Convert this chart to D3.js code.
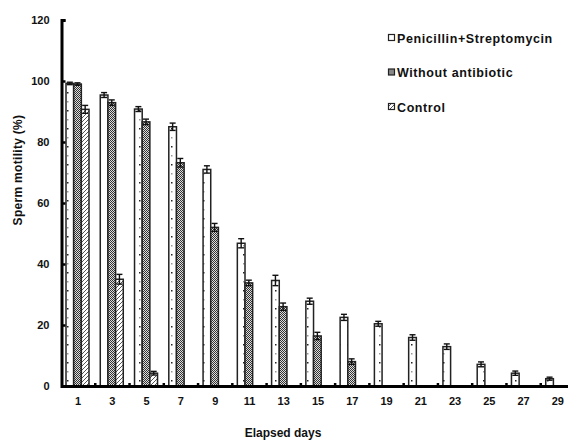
<!DOCTYPE html>
<html lang="en">
<head>
    <meta charset="UTF-8">
    <title>Sperm motility</title>
    <script src="https://d3js.org/d3.v7.min.js"></script>
    <style>
        body { margin: 0; background: #fff; }
        text { font-family: "Liberation Sans", Arial, sans-serif; font-weight: bold; fill: #111; }
        .axis path, .axis line { stroke: #000; }
        .bar { stroke: #222; stroke-width: 1.5; }
        .err { stroke: #111; stroke-width: 1.4; fill: none; }
    </style>
</head>
<body>
    <div id="chart"></div>
    <script type="text/javascript">
        // data
        const days = ["1", "3", "5", "7", "9", "11", "13", "15", "17", "19", "21", "23", "25", "27", "29"];
        const seriesNames = ["Penicillin+Streptomycin", "Without antibiotic", "Control"];
        const penStrep = [99.2, 95.4, 90.8, 85, 71, 46.8, 34.6, 27.8, 22.5, 20.4, 15.9, 12.9, 7.1, 4.2, 2.4];
        const penStrepErr = [0.4, 0.8, 0.8, 1.2, 1.2, 1.5, 1.7, 1.0, 1.0, 0.8, 0.9, 0.9, 0.8, 0.7, 0.5];
        const noAntibiotic = [99, 92.9, 86.6, 73.2, 52, 33.8, 26, 16.4, 8, null, null, null, null, null, null];
        const noAntibioticErr = [0.4, 0.9, 0.9, 1.4, 1.3, 0.9, 1.2, 1.2, 0.9, null, null, null, null, null, null];
        const control = [90.7, 35, 4.2, null, null, null, null, null, null, null, null, null, null, null, null];
        const controlErr = [1.3, 1.6, 0.6, null, null, null, null, null, null, null, null, null, null, null, null];
        const yTicks = [0, 20, 40, 60, 80, 100, 120];

        const width = 568, height = 440;
        const svg = d3.select("#chart").append("svg")
            .attr("width", width)
            .attr("height", height);

        // fill patterns
        const defs = svg.append("defs");
        const dots = defs.append("pattern").attr("id", "pDots")
            .attr("patternUnits", "userSpaceOnUse").attr("width", 8).attr("height", 18);
        dots.append("rect").attr("width", 8).attr("height", 18).attr("fill", "#fff");
        dots.append("rect").attr("x", 3).attr("y", 2).attr("width", 1.5).attr("height", 1.5).attr("fill", "#222");
        dots.append("rect").attr("x", 3).attr("y", 11).attr("width", 1.5).attr("height", 1.5).attr("fill", "#999");

        const mesh = defs.append("pattern").attr("id", "pMesh")
            .attr("patternUnits", "userSpaceOnUse").attr("width", 2).attr("height", 2);
        mesh.append("rect").attr("width", 2).attr("height", 2).attr("fill", "#ddd");
        mesh.append("rect").attr("width", 1).attr("height", 1).attr("fill", "#333");
        mesh.append("rect").attr("x", 1).attr("y", 1).attr("width", 1).attr("height", 1).attr("fill", "#333");

        const hatch = defs.append("pattern").attr("id", "pHatch")
            .attr("patternUnits", "userSpaceOnUse").attr("width", 4).attr("height", 4);
        hatch.append("rect").attr("width", 4).attr("height", 4).attr("fill", "#fff");
        hatch.append("path").attr("d", "M-1,1 l2,-2 M0,4 l4,-4 M3,5 l2,-2")
            .attr("stroke", "#555").attr("stroke-width", 1);

        const fills = ["url(#pDots)", "url(#pMesh)", "url(#pHatch)"];
        const values = [penStrep, noAntibiotic, control];
        const errs = [penStrepErr, noAntibioticErr, controlErr];

        const x0 = d3.scaleBand().domain(days).range([61, 575]).padding(0);
        const x1 = d3.scaleBand().domain(d3.range(3)).range([5, 28]);
        const y = d3.scaleLinear().domain([0, 120]).range([386, 20]);

        // bars
        const rows = [];
        values.forEach((vals, s) => {
            vals.forEach((v, i) => {
                if (v != null) rows.push({ day: days[i], s: s, v: v, e: errs[s][i] });
            });
        });

        svg.append("g").selectAll("rect")
            .data(rows)
            .enter().append("rect")
            .attr("class", "bar")
            .attr("x", d => x0(d.day) + x1(d.s))
            .attr("y", d => y(d.v))
            .attr("width", x1.bandwidth())
            .attr("height", d => y(0) - y(d.v))
            .attr("fill", d => fills[d.s]);

        // error bars
        const eg = svg.append("g").selectAll("g")
            .data(rows)
            .enter().append("g")
            .attr("transform", d => "translate(" + (x0(d.day) + x1(d.s) + x1.bandwidth() / 2) + ",0)");
        eg.append("line").attr("class", "err")
            .attr("x1", 0).attr("x2", 0)
            .attr("y1", d => y(d.v - d.e)).attr("y2", d => y(d.v + d.e));
        eg.append("line").attr("class", "err")
            .attr("x1", -3).attr("x2", 3)
            .attr("y1", d => y(d.v + d.e)).attr("y2", d => y(d.v + d.e));
        eg.append("line").attr("class", "err")
            .attr("x1", -3).attr("x2", 3)
            .attr("y1", d => y(d.v - d.e)).attr("y2", d => y(d.v - d.e));

        // y axis
        const yAxis = svg.append("g").attr("class", "axis")
            .attr("transform", "translate(61.5,0)")
            .call(d3.axisLeft(y).tickValues(yTicks).tickSize(-4).tickPadding(12));
        yAxis.select(".domain").attr("stroke-width", 3);
        yAxis.selectAll(".tick line").attr("stroke-width", 2.5);
        yAxis.selectAll("text").style("font-size", "11px");

        // x axis
        const xAxis = svg.append("g").attr("class", "axis")
            .attr("transform", "translate(0," + y(0) + ")")
            .call(d3.axisBottom(x0).tickSize(0).tickPadding(11).tickSizeOuter(0));
        xAxis.select(".domain").attr("stroke-width", 3);
        xAxis.selectAll("text").style("font-size", "11px");

        // small ticks between groups
        svg.append("g").selectAll("line")
            .data(days.slice(1))
            .enter().append("line")
            .attr("x1", d => x0(d)).attr("x2", d => x0(d))
            .attr("y1", y(0)).attr("y2", y(0) - 3)
            .attr("stroke", "#000").attr("stroke-width", 2.5);

        // axis titles
        svg.append("text")
            .attr("x", 283).attr("y", 437)
            .attr("text-anchor", "middle")
            .style("font-size", "12px")
            .text("Elapsed days");
        svg.append("text")
            .attr("transform", "translate(22,170) rotate(-90)")
            .attr("text-anchor", "middle")
            .style("font-size", "12px")
            .style("letter-spacing", "0.3px")
            .text("Sperm motility (%)");

        // legend
        const legend = svg.append("g").selectAll("g")
            .data(seriesNames)
            .enter().append("g")
            .attr("transform", (d, i) => "translate(388," + (38 + i * 34.5) + ")");
        legend.append("rect")
            .attr("x", 0.5).attr("y", -3.5)
            .attr("width", 6).attr("height", 6)
            .attr("fill", (d, i) => fills[i])
            .attr("stroke", "#222").attr("stroke-width", 1.2);
        legend.append("text")
            .attr("x", 9).attr("y", 4.5)
            .style("font-size", "12.5px")
            .style("letter-spacing", "0.6px")
            .text(d => d);
    </script>
</body>
</html>
